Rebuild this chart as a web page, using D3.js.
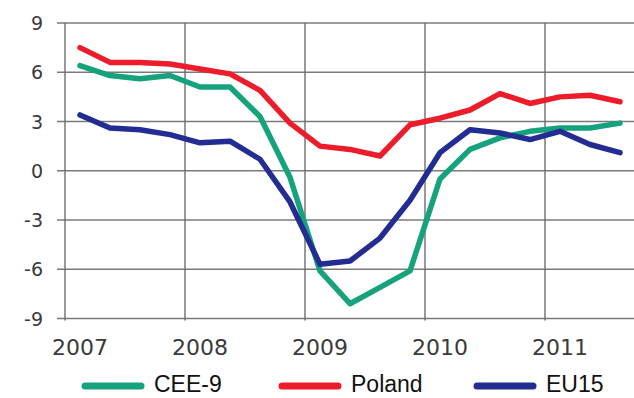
<!DOCTYPE html>
<html>
<head>
<meta charset="utf-8">
<script src="https://cdn.jsdelivr.net/npm/d3@7/dist/d3.min.js"></script>
<style>
  html, body { margin: 0; padding: 0; background: #ffffff; }
  svg { display: block; }
</style>
</head>
<body>
<svg id="chart" width="634" height="398"></svg>
<script>
// Quarterly GDP growth, % y/y, 2007Q1 - 2011Q3
const quarters = [
  "2007Q1","2007Q2","2007Q3","2007Q4",
  "2008Q1","2008Q2","2008Q3","2008Q4",
  "2009Q1","2009Q2","2009Q3","2009Q4",
  "2010Q1","2010Q2","2010Q3","2010Q4",
  "2011Q1","2011Q2","2011Q3"
];
const cee9   = [6.4, 5.8, 5.6, 5.8, 5.1, 5.1, 3.3, -0.4, -6.1, -8.1, -7.1, -6.1, -0.5, 1.3, 2.0, 2.4, 2.6, 2.6, 2.9];
const poland = [7.5, 6.6, 6.6, 6.5, 6.2, 5.9, 4.9, 2.9, 1.5, 1.3, 0.9, 2.8, 3.2, 3.7, 4.7, 4.1, 4.5, 4.6, 4.2];
const eu15   = [3.4, 2.6, 2.5, 2.2, 1.7, 1.8, 0.7, -1.9, -5.7, -5.5, -4.1, -1.8, 1.1, 2.5, 2.3, 1.9, 2.4, 1.6, 1.1];
const yTicks = [-9, -6, -3, 0, 3, 6, 9];
const yearLabels = ["2007", "2008", "2009", "2010", "2011"];

const series = [
  { name: "CEE-9",  values: cee9,   color: "#16a27c" },
  { name: "Poland", values: poland, color: "#ec1c2a" },
  { name: "EU15",   values: eu15,   color: "#222c92" }
];

const svg = d3.select("#chart");
const plotLeft = 65, plotTop = 23, plotBottom = 318.5, plotRight = 635;

// one 30px slot per quarter, point in the middle of its slot
const x = d3.scaleLinear().domain([0, quarters.length]).range([plotLeft, plotRight]);
const y = d3.scaleLinear().domain([-9, 9]).range([plotBottom, plotTop]);

const grid = svg.append("g");

// horizontal grid lines with short ticks to the left of the axis
grid.selectAll("line.h").data(yTicks).join("line")
  .attr("class", "h")
  .attr("x1", plotLeft - 8).attr("x2", 634)
  .attr("y1", d => y(d)).attr("y2", d => y(d))
  .attr("stroke", "#7a7a7a").attr("stroke-width", 1.4);

// vertical grid lines at the start of each year
const yearStarts = yearLabels.map((_, i) => i * 4);
grid.selectAll("line.v").data(yearStarts).join("line")
  .attr("class", "v")
  .attr("x1", d => x(d)).attr("x2", d => x(d))
  .attr("y1", plotTop).attr("y2", plotBottom + 2)
  .attr("stroke", "#6e6e6e").attr("stroke-width", 1.4);

// y tick labels
svg.append("g").selectAll("text").data(yTicks).join("text")
  .attr("x", 43).attr("y", d => y(d))
  .attr("text-anchor", "end").attr("dominant-baseline", "central")
  .attr("font-family", "DejaVu Sans, sans-serif")
  .attr("font-size", 19).attr("fill", "#3a3a3a")
  .text(d => d);

// year labels under the first quarter of each year
svg.append("g").selectAll("text").data(yearLabels).join("text")
  .attr("x", (d, i) => x(i * 4 + 0.5)).attr("y", 355)
  .attr("text-anchor", "middle")
  .attr("font-family", "DejaVu Sans, sans-serif")
  .attr("font-size", 22).attr("fill", "#3a3a3a")
  .text(d => d);

// series lines
const line = d3.line()
  .x((d, i) => x(i + 0.5))
  .y(d => y(d));

svg.append("g").selectAll("path").data(series).join("path")
  .attr("d", d => line(d.values))
  .attr("fill", "none")
  .attr("stroke", d => d.color)
  .attr("stroke-width", 5.5)
  .attr("stroke-linejoin", "round")
  .attr("stroke-linecap", "round");

// legend
const legendX = [85, 282, 477];
const lg = svg.append("g").selectAll("g").data(series).join("g")
  .attr("transform", (d, i) => `translate(${legendX[i]},386)`);
lg.append("line")
  .attr("x1", 0).attr("x2", 56).attr("y1", 0).attr("y2", 0)
  .attr("stroke", d => d.color).attr("stroke-width", 7)
  .attr("stroke-linecap", "round");
lg.append("text")
  .attr("x", 69).attr("y", 6)
  .attr("font-family", "Liberation Sans, Arial, sans-serif")
  .attr("font-size", 23).attr("fill", "#111")
  .text(d => d.name);
</script>
</body>
</html>
